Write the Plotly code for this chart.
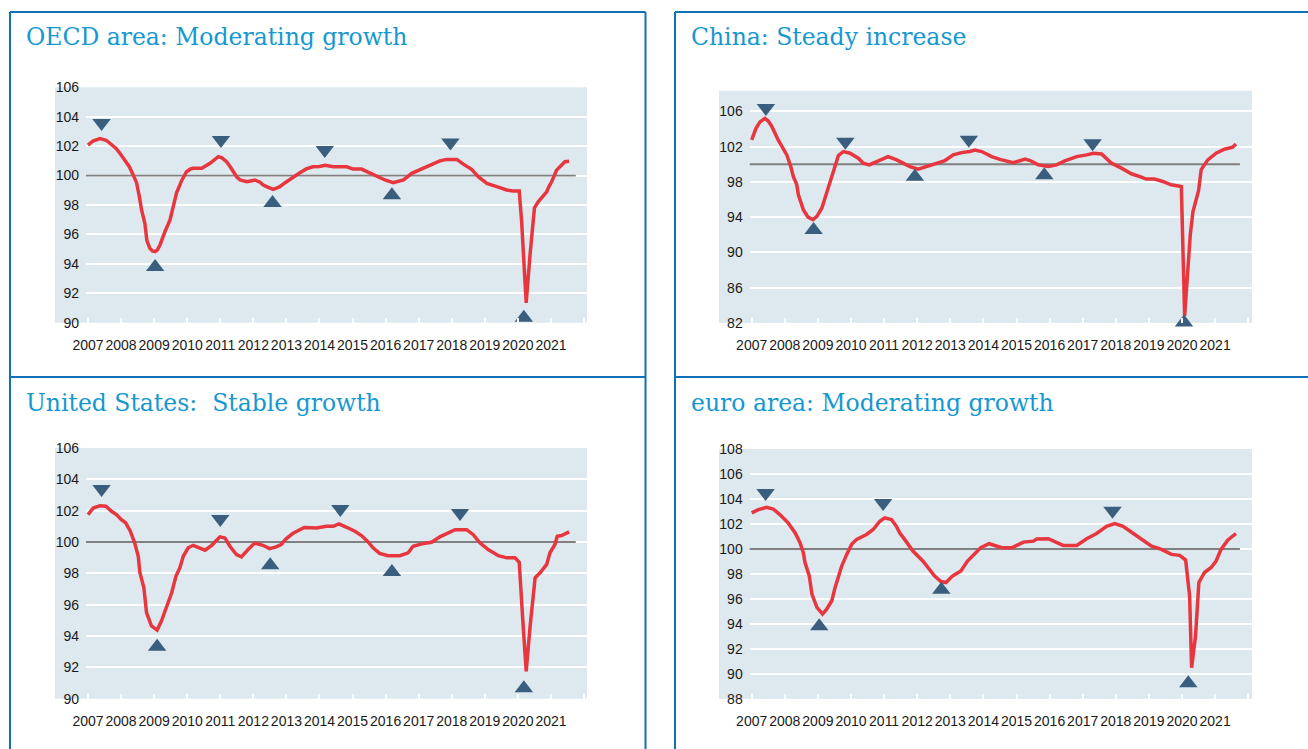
import plotly.graph_objects as go

W, H = 1308, 749

# ------------------------------------------------------------------ data
years = list(range(2007, 2023))
year_labels = [str(y) for y in range(2007, 2022)] + [""]
baseline = 100
ref_span = [2006.92, 2021.75]

oecd_t = [2007.00, 2007.15, 2007.36, 2007.55, 2007.67, 2007.85, 2007.97, 2008.12, 2008.25, 2008.37,
          2008.47, 2008.55, 2008.62, 2008.72, 2008.78, 2008.87, 2008.95, 2009.03, 2009.10, 2009.18,
          2009.25, 2009.33, 2009.48, 2009.58, 2009.68, 2009.75, 2009.83, 2009.98, 2010.10, 2010.18,
          2010.44, 2010.69, 2010.85, 2010.94, 2011.05, 2011.19, 2011.30, 2011.39, 2011.50, 2011.60,
          2011.80, 2011.95, 2012.05, 2012.20, 2012.30, 2012.45, 2012.60, 2012.70, 2012.80, 2012.95,
          2013.10, 2013.25, 2013.41, 2013.60, 2013.80, 2014.00, 2014.17, 2014.42, 2014.82, 2015.02,
          2015.27, 2015.53, 2015.78, 2015.98, 2016.23, 2016.40, 2016.54, 2016.79, 2017.09, 2017.34,
          2017.64, 2017.85, 2018.15, 2018.35, 2018.60, 2018.80, 2019.06, 2019.36, 2019.66, 2019.85,
          2020.04, 2020.11, 2020.25, 2020.37, 2020.50, 2020.62, 2020.75, 2020.87, 2020.95, 2021.02,
          2021.17, 2021.30, 2021.42, 2021.55]
oecd_v = [102.07, 102.35, 102.52, 102.40, 102.18, 101.85, 101.50, 101.05, 100.60, 100.03,
          99.50, 98.60, 97.66, 96.76, 95.60, 95.06, 94.88, 94.83, 94.95, 95.30,
          95.80, 96.20, 96.98, 97.90, 98.85, 99.20, 99.65, 100.26, 100.45, 100.50,
          100.50, 100.83, 101.10, 101.28, 101.20, 100.94, 100.60, 100.26, 99.90, 99.70,
          99.58, 99.65, 99.70, 99.55, 99.36, 99.20, 99.06, 99.15, 99.25, 99.50,
          99.70, 99.95, 100.20, 100.45, 100.60, 100.62, 100.70, 100.60, 100.60, 100.44,
          100.44, 100.15, 99.88, 99.70, 99.52, 99.60, 99.70, 100.15, 100.44, 100.71,
          101.00, 101.10, 101.10, 100.78, 100.42, 99.93, 99.47, 99.25, 99.02, 98.95,
          98.95, 96.98, 91.35, 94.70, 97.80, 98.23, 98.60, 98.90, 99.30, 99.58,
          100.37, 100.70, 100.94, 100.98]
oecd_peak_t = [2007.41, 2011.02, 2014.16, 2017.96]
oecd_peak_v = [103.57, 102.41, 101.73, 102.24]
oecd_trough_t = [2009.03, 2012.58, 2016.19, 2020.18]
oecd_trough_v = [93.78, 98.13, 98.67, 90.34]

china_t = [2007.00, 2007.13, 2007.25, 2007.40, 2007.50, 2007.60, 2007.80, 2007.95, 2008.06, 2008.18,
           2008.26, 2008.36, 2008.41, 2008.56, 2008.70, 2008.85, 2008.97, 2009.12, 2009.27, 2009.42,
           2009.50, 2009.62, 2009.77, 2009.97, 2010.22, 2010.37, 2010.55, 2010.77, 2011.12, 2011.38,
           2011.58, 2011.78, 2012.03, 2012.28, 2012.59, 2012.84, 2013.09, 2013.34, 2013.59, 2013.74,
           2013.95, 2014.25, 2014.50, 2014.75, 2014.90, 2015.10, 2015.26, 2015.41, 2015.66, 2015.96,
           2016.21, 2016.46, 2016.82, 2017.12, 2017.32, 2017.57, 2017.70, 2017.87, 2018.17, 2018.47,
           2018.77, 2018.92, 2019.17, 2019.42, 2019.67, 2019.98, 2020.08, 2020.17, 2020.25, 2020.33,
           2020.42, 2020.50, 2020.58, 2020.78, 2021.03, 2021.28, 2021.53, 2021.63]
china_v = [102.76, 104.08, 104.80, 105.20, 104.90, 104.34, 102.76, 101.80, 101.06, 99.74,
           98.60, 97.70, 96.54, 94.85, 94.00, 93.72, 94.10, 95.04, 96.90, 98.50,
           99.60, 101.00, 101.44, 101.25, 100.69, 100.12, 99.93, 100.31, 100.87, 100.50,
           100.12, 99.74, 99.45, 99.74, 100.12, 100.42, 101.06, 101.32, 101.44, 101.60,
           101.44, 100.87, 100.55, 100.30, 100.19, 100.40, 100.58, 100.42, 99.93, 99.74,
           99.93, 100.38, 100.87, 101.06, 101.25, 101.17, 100.70, 100.12, 99.56, 98.92,
           98.54, 98.32, 98.32, 98.05, 97.67, 97.48, 82.80, 88.50, 92.00, 94.60,
           95.80, 97.00, 99.40, 100.50, 101.25, 101.70, 101.93, 102.30]
china_peak_t = [2007.43, 2009.83, 2013.56, 2017.30]
china_peak_v = [106.37, 102.55, 102.78, 102.37]
china_trough_t = [2008.87, 2011.93, 2015.84, 2020.06]
china_trough_v = [92.54, 98.59, 98.74, 82.05]

us_t = [2007.00, 2007.16, 2007.36, 2007.54, 2007.71, 2007.86, 2008.01, 2008.14, 2008.28, 2008.41,
        2008.52, 2008.57, 2008.69, 2008.77, 2008.92, 2009.09, 2009.22, 2009.38, 2009.53, 2009.66,
        2009.78, 2009.88, 2010.03, 2010.18, 2010.39, 2010.54, 2010.74, 2010.99, 2011.14, 2011.29,
        2011.49, 2011.64, 2011.84, 2012.04, 2012.29, 2012.49, 2012.69, 2012.84, 2012.99, 2013.19,
        2013.39, 2013.54, 2013.91, 2014.21, 2014.41, 2014.59, 2014.82, 2015.07, 2015.27, 2015.47,
        2015.62, 2015.82, 2016.07, 2016.43, 2016.68, 2016.83, 2017.09, 2017.39, 2017.64, 2017.90,
        2018.10, 2018.45, 2018.65, 2018.85, 2019.10, 2019.41, 2019.66, 2019.91, 2020.04, 2020.14,
        2020.25, 2020.37, 2020.52, 2020.67, 2020.87, 2020.97, 2021.12, 2021.19, 2021.32, 2021.55]
us_v = [101.75, 102.17, 102.32, 102.28, 101.96, 101.75, 101.43, 101.22, 100.69, 99.95,
        99.09, 98.04, 97.08, 95.49, 94.64, 94.38, 94.96, 95.91, 96.76, 97.82,
        98.36, 99.09, 99.63, 99.79, 99.58, 99.48, 99.79, 100.33, 100.26, 99.73,
        99.20, 99.05, 99.52, 99.93, 99.79, 99.58, 99.69, 99.84, 100.20, 100.54,
        100.77, 100.93, 100.90, 101.00, 101.00, 101.15, 100.94, 100.69, 100.41, 100.01,
        99.63, 99.27, 99.13, 99.13, 99.31, 99.73, 99.88, 99.98, 100.33, 100.58,
        100.79, 100.79, 100.47, 99.95, 99.52, 99.13, 98.99, 98.99, 98.71, 95.27,
        91.75, 94.64, 97.72, 98.04, 98.57, 99.31, 99.84, 100.37, 100.41, 100.65]
us_peak_t = [2007.41, 2011.00, 2014.63, 2018.25]
us_peak_v = [103.38, 101.47, 102.11, 101.85]
us_trough_t = [2009.09, 2012.51, 2016.19, 2020.18]
us_trough_v = [93.32, 98.51, 98.09, 90.67]

euro_t = [2007.00, 2007.20, 2007.45, 2007.65, 2007.85, 2008.10, 2008.31, 2008.46, 2008.56, 2008.61,
          2008.74, 2008.82, 2008.97, 2009.14, 2009.27, 2009.42, 2009.52, 2009.62, 2009.72, 2009.87,
          2010.02, 2010.17, 2010.47, 2010.67, 2010.87, 2011.02, 2011.22, 2011.37, 2011.47, 2011.62,
          2011.77, 2011.87, 2012.17, 2012.37, 2012.52, 2012.72, 2012.87, 2013.07, 2013.32, 2013.52,
          2013.72, 2013.92, 2014.17, 2014.47, 2014.56, 2014.86, 2015.21, 2015.51, 2015.61, 2015.96,
          2016.16, 2016.41, 2016.82, 2017.12, 2017.42, 2017.72, 2017.97, 2018.22, 2018.53, 2018.83,
          2019.08, 2019.38, 2019.68, 2019.93, 2020.11, 2020.23, 2020.29, 2020.41, 2020.51, 2020.68,
          2020.88, 2021.03, 2021.18, 2021.38, 2021.63]
euro_v = [102.89, 103.15, 103.33, 103.20, 102.75, 102.09, 101.30, 100.50, 99.71, 98.91,
          97.85, 96.39, 95.34, 94.80, 95.20, 95.86, 96.93, 97.72, 98.64, 99.57,
          100.37, 100.77, 101.16, 101.56, 102.22, 102.49, 102.36, 101.82, 101.30, 100.77,
          100.23, 99.84, 99.04, 98.38, 97.85, 97.40, 97.32, 97.85, 98.25, 99.04,
          99.57, 100.10, 100.42, 100.20, 100.10, 100.10, 100.55, 100.63, 100.80, 100.82,
          100.55, 100.29, 100.29, 100.82, 101.24, 101.82, 102.04, 101.82, 101.24, 100.71,
          100.23, 99.97, 99.57, 99.49, 99.12, 96.26, 90.50, 93.08, 97.32, 98.12,
          98.52, 99.04, 99.97, 100.71, 101.24]
euro_peak_t = [2007.42, 2010.97, 2017.90]
euro_peak_v = [104.48, 103.68, 103.06]
euro_trough_t = [2009.04, 2012.73, 2020.19]
euro_trough_v = [93.82, 96.74, 89.26]

# ------------------------------------------------------------------ style
RED = "#e8363f"
MARK = "#3a5e7e"
GREY = "#808080"
BG = "#dde8ef"
BORDER = "#1070b8"
TITLE = "#1598d2"
TICKFONT = dict(family="Liberation Sans, Arial, sans-serif", size=14, color="#1a1a1a")


def px_x(p):
    return p / W


def px_y(p):
    return 1 - p / H


panels = [
    dict(title="OECD area: Moderating growth", t=oecd_t, v=oecd_v,
         pk=(oecd_peak_t, oecd_peak_v), tr=(oecd_trough_t, oecd_trough_v),
         x2007=88.0, ppy=33.07, xl=86, xr=587, yr=(90, 106), ytop=87.3, ybot=322.7,
         yticks=list(range(90, 107, 2)), bg=(55, 587, 87.3, 322.7), tpos=(24, 37)),
    dict(title="China: Steady increase", t=china_t, v=china_v,
         pk=(china_peak_t, china_peak_v), tr=(china_trough_t, china_trough_v),
         x2007=751.7, ppy=33.1, xl=749.7, xr=1252, yr=(82, 108.34), ytop=90.7, ybot=323.0,
         yticks=list(range(82, 107, 4)), bg=(719, 1252, 90.7, 323.0), tpos=(689, 37)),
    dict(title="United States:  Stable growth", t=us_t, v=us_v,
         pk=(us_peak_t, us_peak_v), tr=(us_trough_t, us_trough_v),
         x2007=88.0, ppy=33.07, xl=86, xr=587, yr=(90, 106), ytop=448.0, ybot=698.7,
         yticks=list(range(90, 107, 2)), bg=(55, 587, 448.0, 698.7), tpos=(24, 403)),
    dict(title="euro area: Moderating growth", t=euro_t, v=euro_v,
         pk=(euro_peak_t, euro_peak_v), tr=(euro_trough_t, euro_trough_v),
         x2007=751.7, ppy=33.1, xl=749.7, xr=1252, yr=(88, 108), ytop=449.0, ybot=699.0,
         yticks=list(range(88, 109, 2)), bg=(719, 1252, 449.0, 699.0), tpos=(689, 403)),
]

fig = go.Figure()
shapes = []
annotations = []
layout = {}

for i, p in enumerate(panels, start=1):
    xa = "x" if i == 1 else f"x{i}"
    ya = "y" if i == 1 else f"y{i}"
    xkey = "xaxis" if i == 1 else f"xaxis{i}"
    ykey = "yaxis" if i == 1 else f"yaxis{i}"

    x0 = 2007 + (p["xl"] - p["x2007"]) / p["ppy"]
    x1 = 2007 + (p["xr"] - p["x2007"]) / p["ppy"]

    layout[xkey] = dict(
        domain=[px_x(p["xl"]), px_x(p["xr"])], range=[x0, x1], anchor=ya,
        tickmode="array", tickvals=years, ticktext=year_labels, tickangle=0,
        ticks="inside", ticklen=5, tickwidth=1.5, tickcolor="white",
        showgrid=False, zeroline=False, showline=False, automargin=False,
        tickfont=TICKFONT, ticklabelstandoff=12, fixedrange=True,
    )
    layout[ykey] = dict(
        domain=[px_y(p["ybot"]), px_y(p["ytop"])], range=list(p["yr"]), anchor=xa,
        tickmode="array", tickvals=p["yticks"], ticktext=[str(v) for v in p["yticks"]],
        showgrid=True, gridcolor="white", gridwidth=2, zeroline=False, showline=False,
        ticks="", tickfont=TICKFONT, ticklabelstandoff=6, fixedrange=True, automargin=False,
    )

    bx0, bx1, by0, by1 = p["bg"]
    shapes.append(dict(type="rect", xref="paper", yref="paper", layer="below",
                       x0=px_x(bx0), x1=px_x(bx1), y0=px_y(by1), y1=px_y(by0),
                       fillcolor=BG, line=dict(width=0)))

    fig.add_trace(go.Scatter(x=ref_span, y=[baseline, baseline], mode="lines",
                             line=dict(color=GREY, width=1.8), xaxis=xa, yaxis=ya,
                             hoverinfo="skip", showlegend=False))
    fig.add_trace(go.Scatter(x=p["t"], y=p["v"], mode="lines",
                             line=dict(color=RED, width=3.5), xaxis=xa, yaxis=ya,
                             showlegend=False))
    fig.add_trace(go.Scatter(x=p["pk"][0], y=p["pk"][1], mode="markers",
                             marker=dict(symbol="triangle-down", size=16, color=MARK),
                             xaxis=xa, yaxis=ya, cliponaxis=False, showlegend=False))
    fig.add_trace(go.Scatter(x=p["tr"][0], y=p["tr"][1], mode="markers",
                             marker=dict(symbol="triangle-up", size=16, color=MARK),
                             xaxis=xa, yaxis=ya, cliponaxis=False, showlegend=False))

    annotations.append(dict(text=p["title"], xref="paper", yref="paper",
                            x=px_x(p["tpos"][0]), y=px_y(p["tpos"][1]),
                            xanchor="left", yanchor="middle", showarrow=False,
                            font=dict(family="DejaVu Serif, serif", size=23.5, color=TITLE)))


def line(xa0, ya0, xa1, ya1):
    return dict(type="line", xref="paper", yref="paper", layer="above",
                x0=px_x(xa0), y0=px_y(ya0), x1=px_x(xa1), y1=px_y(ya1),
                line=dict(color=BORDER, width=2))


shapes += [
    line(10, 12, 645.5, 12), line(10, 12, 10, 749), line(645.5, 12, 645.5, 749), line(10, 377, 645.5, 377),
    line(675, 12, 1308, 12), line(675, 12, 675, 749), line(675, 377, 1308, 377),
]

fig.update_layout(
    width=W, height=H, autosize=False,
    margin=dict(l=0, r=0, t=0, b=0, pad=0),
    paper_bgcolor="white", plot_bgcolor="rgba(0,0,0,0)",
    shapes=shapes, annotations=annotations, showlegend=False,
    **layout,
)

fig.write_html(
    "out.html",
    config={"displayModeBar": False},
    post_script="document.body.style.margin='0';document.body.style.overflow='hidden';",
)
